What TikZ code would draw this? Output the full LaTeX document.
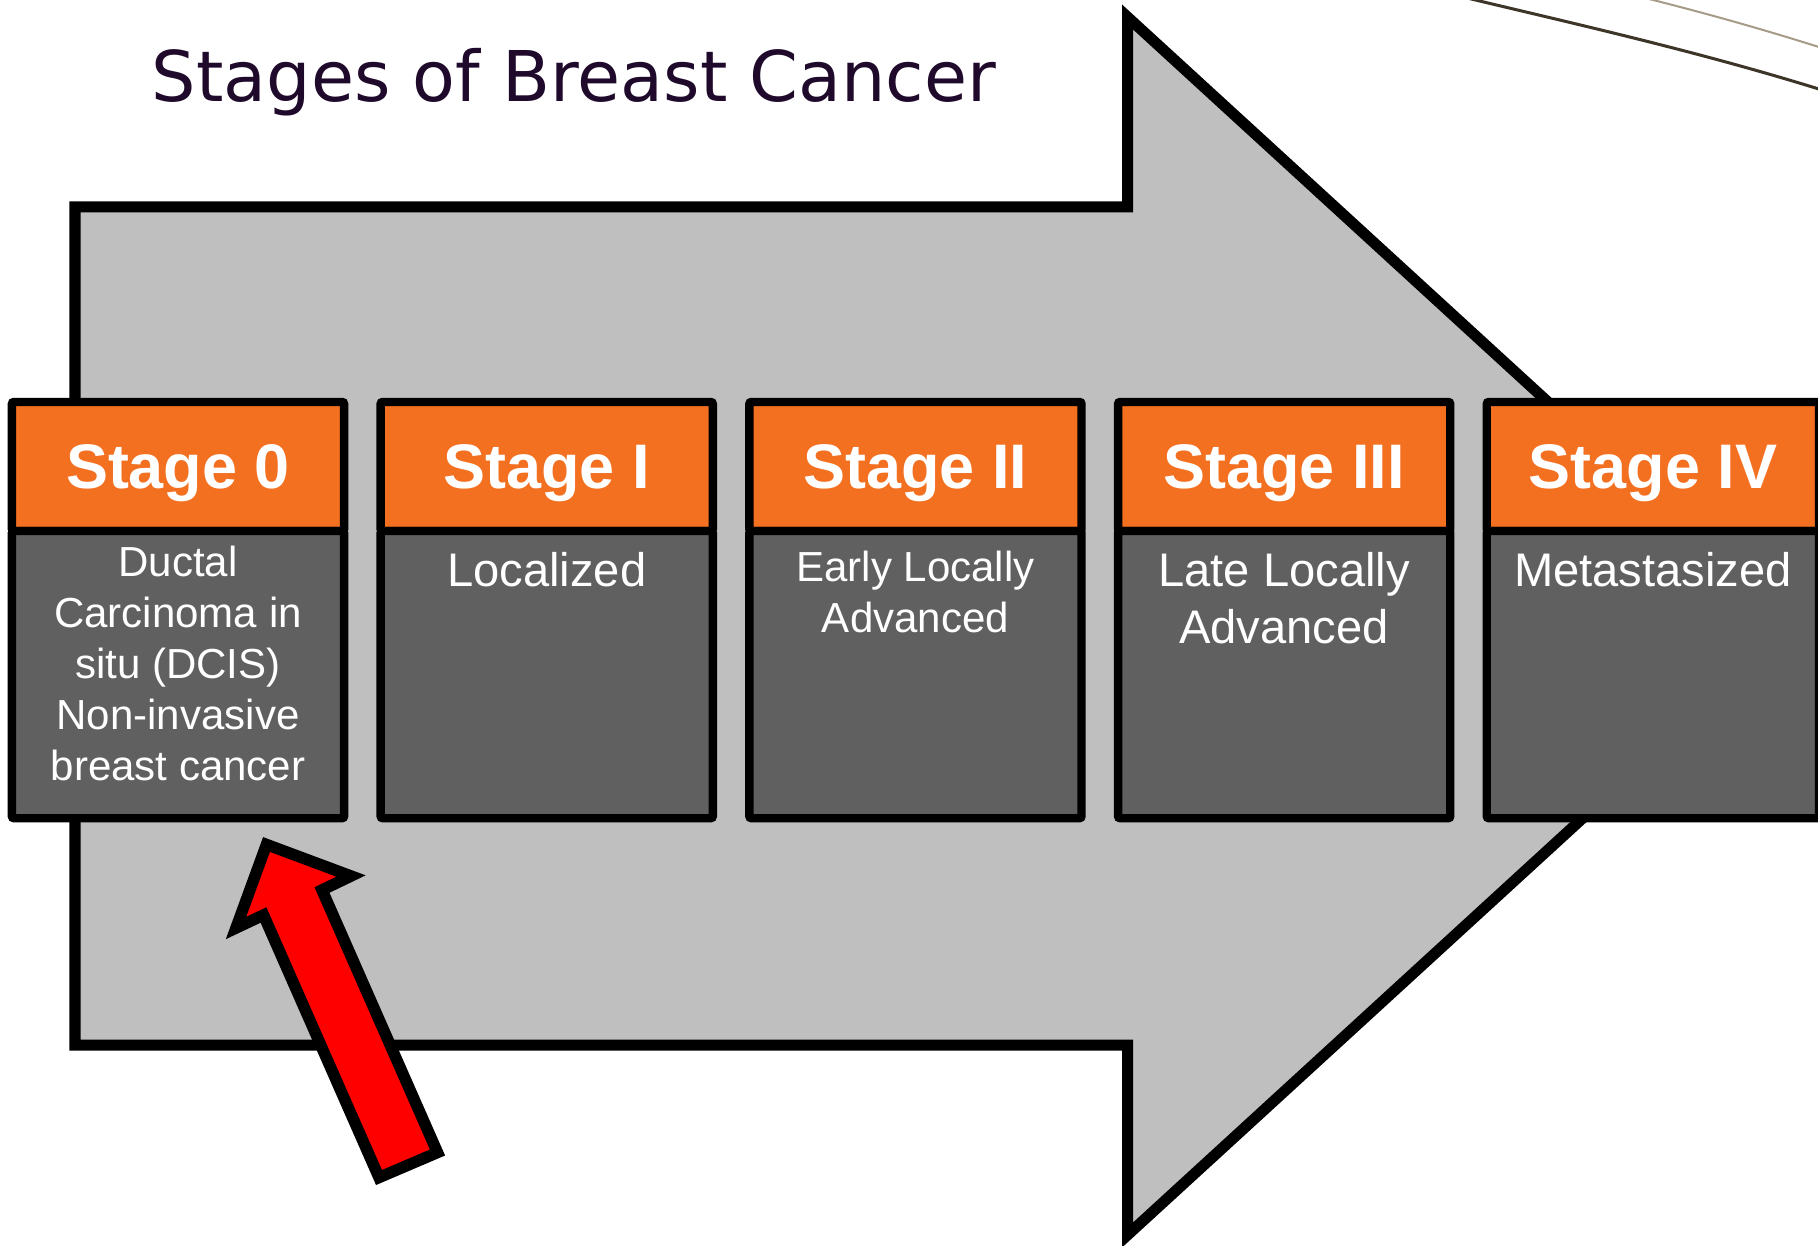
\documentclass[tikz,border=0pt]{standalone}
\usepackage{fontspec}
\setmainfont{Liberation Sans}
\newfontfamily\headingfont{DejaVu Sans}
\usetikzlibrary{positioning}

\definecolor{stageorange}{RGB}{243,112,33}
\definecolor{stagegrey}{RGB}{96,96,96}
\definecolor{arrowgrey}{RGB}{191,191,191}
\definecolor{titleplum}{RGB}{32,10,44}
\definecolor{swooshdark}{RGB}{60,53,40}
\definecolor{swooshlight}{RGB}{165,155,135}

\begin{document}
\begin{tikzpicture}[
  x=0.01cm, y=-0.01cm,
  headtitle/.style={font=\headingfont\fontsize{19.9}{24}\selectfont, text=titleplum, inner sep=0pt},
  stagehead/.style={rectangle, draw=black, line width=0.084cm, fill=stageorange, minimum width=3.32cm, minimum height=1.29cm, outer sep=0pt, inner sep=0pt, rounded corners=0.6pt, text=white, text depth=0pt, font=\bfseries\fontsize{17.9}{21}\selectfont},
  stagebody/.style={rectangle, draw=black, line width=0.084cm, fill=stagegrey, minimum width=3.32cm, minimum height=2.87cm, outer sep=0pt, inner sep=0pt, rounded corners=0.6pt},
  bodytxt/.style={text=white, align=center, inner sep=0pt},
  smalltxt/.style={font=\fontsize{11.95}{14.5}\selectfont},
  largetxt/.style={font=\fontsize{13.4}{16.2}\selectfont},
  bigarrow/.style={draw=black, fill=arrowgrey, line width=0.11cm, line join=miter},
  pointer/.style={draw=black, fill=red, line width=0.115cm, line join=miter},
  swoosh/.style={line cap=round}
]
\useasboundingbox (0,0) rectangle (1818,1246);
\clip (0,0) rectangle (1818,1246);

\draw[swoosh, draw=swooshdark, line width=0.03cm] (1467,-2) .. controls (1580,25) and (1700,52) .. (1822,90);
\draw[swoosh, draw=swooshlight, line width=0.02cm] (1645,-2) .. controls (1705,13) and (1762,29) .. (1822,48);

\draw[bigarrow] (75,207) -- (1127.5,207) -- (1127.5,17) -- (1792.5,626)
  -- (1127.5,1235) -- (1127.5,1045) -- (75,1045) -- cycle;

\node[headtitle, anchor=base] (title) at (574,102) {Stages of Breast Cancer};

\node[stagehead] (h0) at (178,466.5) {Stage 0};
\node[stagehead, right=0.365cm of h0] (h1) {Stage I};
\node[stagehead, right=0.365cm of h1] (h2) {Stage II};
\node[stagehead, right=0.365cm of h2] (h3) {Stage III};
\node[stagehead, right=0.365cm of h3] (h4) {Stage IV};

\node[stagebody, below=0pt of h0] (b0) {};
\node[stagebody, below=0pt of h1] (b1) {};
\node[stagebody, below=0pt of h2] (b2) {};
\node[stagebody, below=0pt of h3] (b3) {};
\node[stagebody, below=0pt of h4] (b4) {};

\node[bodytxt, smalltxt, below=0.14cm of b0.north] (t0) {Ductal\\Carcinoma in\\situ (DCIS)\\Non-invasive\\breast cancer};
\node[bodytxt, largetxt, below=0.21cm of b1.north] (t1) {Localized};
\node[bodytxt, smalltxt, below=0.19cm of b2.north] (t2) {Early Locally\\Advanced};
\node[bodytxt, largetxt, below=0.21cm of b3.north] (t3) {Late Locally\\Advanced};
\node[bodytxt, largetxt, below=0.21cm of b4.north] (t4) {Metastasized};

\draw[pointer] (379,1177.5) -- (437.5,1152.5) -- (322,890) -- (351,876)
  -- (266.5,844.5) -- (236,928) -- (263.5,915) -- cycle;

\end{tikzpicture}
\end{document}
